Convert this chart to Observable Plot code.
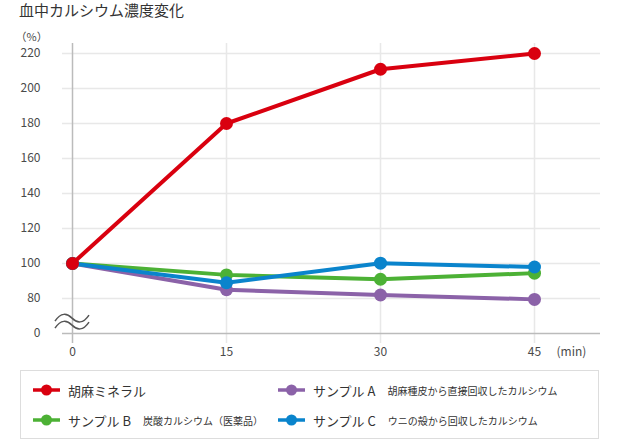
<!DOCTYPE html>
<html><head><meta charset="utf-8">
<script src="https://cdn.jsdelivr.net/npm/d3@7"></script>
<script src="https://cdn.jsdelivr.net/npm/@observablehq/plot@0.6"></script>
<style>
body{margin:0;background:#fff;font-family:"Noto Sans CJK JP","Noto Sans",sans-serif;color:#333;position:relative;width:620px;height:440px;overflow:hidden}
#title{height:22px;line-height:20px;font-size:15px;padding-left:19px;color:#333}
#chart svg{display:block}
#legend{position:absolute;left:20px;top:370px;width:579px;height:69px;border:1.5px solid #ddd;box-sizing:border-box}
.item{position:absolute;display:flex;align-items:center;font-size:13px;color:#333;height:20px}
.item svg{margin-right:8px}
.desc{font-size:10px;margin-left:12px}
</style></head>
<body>
<div id="title">血中カルシウム濃度変化</div>
<div id="chart"></div>
<div id="legend"></div>
<script>
const times = [0, 15, 30, 45];
const timeLabels = ["0", "15", "30", "45"];
const yTicks = [60, 80, 100, 120, 140, 160, 180, 200, 220];
const yTickLabels = ["0", "80", "100", "120", "140", "160", "180", "200", "220"];
const seriesNames = ["胡麻ミネラル", "サンプル A", "サンプル B", "サンプル C"];
const seriesDescs = ["", "胡麻種皮から直接回収したカルシウム", "炭酸カルシウム（医薬品）", "ウニの殻から回収したカルシウム"];
const seriesColors = ["#d9000f", "#8b62a8", "#4cb135", "#0a84cc"];
const gomaMineral = [100, 180, 211, 220];
const sampleA = [100, 85, 82, 79.5];
const sampleB = [100, 93.5, 91, 94.5];
const sampleC = [100, 89, 100.2, 98];
const seriesValues = [gomaMineral, sampleA, sampleB, sampleC];
const drawOrder = [1, 2, 3, 0];
const breakValue = 66.5;

const seriesMarks = [];
for (const i of drawOrder) {
  const rows = times.map((t, j) => ({t, v: seriesValues[i][j]}));
  seriesMarks.push(Plot.line(rows, {x: "t", y: "v", stroke: seriesColors[i], strokeWidth: 4}));
  seriesMarks.push(Plot.dot(rows, {x: "t", y: "v", fill: seriesColors[i], r: 6.5}));
}

function axisBreak(index, scales) {
  const g = d3.create("svg:g");
  const cx = scales.x(0), cy = scales.y(breakValue);
  for (const off of [-3.5, 3.5]) {
    g.append("path")
      .attr("d", `M${cx-17},${cy+off+3} C${cx-11},${cy+off-6} ${cx-5},${cy+off-5} ${cx},${cy+off} S${cx+11},${cy+off+6} ${cx+17},${cy+off-3}`)
      .attr("fill", "none").attr("stroke", "#555").attr("stroke-width", 1.5);
  }
  return g.node();
}

const chart = Plot.plot({
  width: 620, height: 346,
  marginLeft: 62, marginRight: 20, marginTop: 21, marginBottom: 25,
  x: {domain: [0, 45], range: [72, 534], axis: null},
  y: {domain: [60, 220], range: [311, 31], axis: null},
  style: {fontFamily: '"Noto Sans CJK JP","Noto Sans",sans-serif', fontSize: "12px", color: "#444", background: "#fff"},
  marks: [
    Plot.ruleY(yTicks.slice(1), {y: d => d, stroke: "#e8e8e8", strokeWidth: 1.5}),
    Plot.ruleX(times.slice(1), {x: d => d, stroke: "#e8e8e8", strokeWidth: 1.5}),
    Plot.ruleY([yTicks[0]], {y: d => d, stroke: "#bbb", strokeWidth: 1.5}),
    Plot.ruleX([times[0]], {x: d => d, stroke: "#bbb", strokeWidth: 1.5}),
    Plot.text(yTicks, {y: d => d, text: (d, i) => yTickLabels[i], frameAnchor: "left", dx: -22, textAnchor: "end", fill: "#4a4a4a"}),
    Plot.text(times, {x: d => d, text: (d, i) => timeLabels[i], frameAnchor: "bottom", dy: 12, fill: "#4a4a4a"}),
    Plot.text(["(min)"], {text: d => d, frameAnchor: "bottom-right", dx: -44, dy: 12, textAnchor: "start", fill: "#4a4a4a"}),
    Plot.text(["（%）"], {text: d => d, frameAnchor: "top-left", dx: -47, dy: -10, textAnchor: "start", fill: "#4a4a4a", fontSize: 11}),
    axisBreak,
    ...seriesMarks
  ]
});
document.getElementById("chart").append(chart);

const legend = document.getElementById("legend");
const legendPos = [[12, 9], [257, 9], [12, 39], [257, 39]];
const legendOrder = [0, 1, 2, 3];
legendOrder.forEach((i, k) => {
  const div = document.createElement("div");
  div.className = "item";
  div.style.left = legendPos[k][0] + "px";
  div.style.top = legendPos[k][1] + "px";
  div.innerHTML = `<svg width="27" height="14"><line x1="0" x2="27" y1="7" y2="7" stroke="${seriesColors[i]}" stroke-width="3.5"/><circle cx="13.5" cy="7" r="5.5" fill="${seriesColors[i]}"/></svg><span>${seriesNames[i]}</span>` + (seriesDescs[i] ? `<span class="desc">${seriesDescs[i]}</span>` : "");
  legend.append(div);
});
</script>
</body></html>
